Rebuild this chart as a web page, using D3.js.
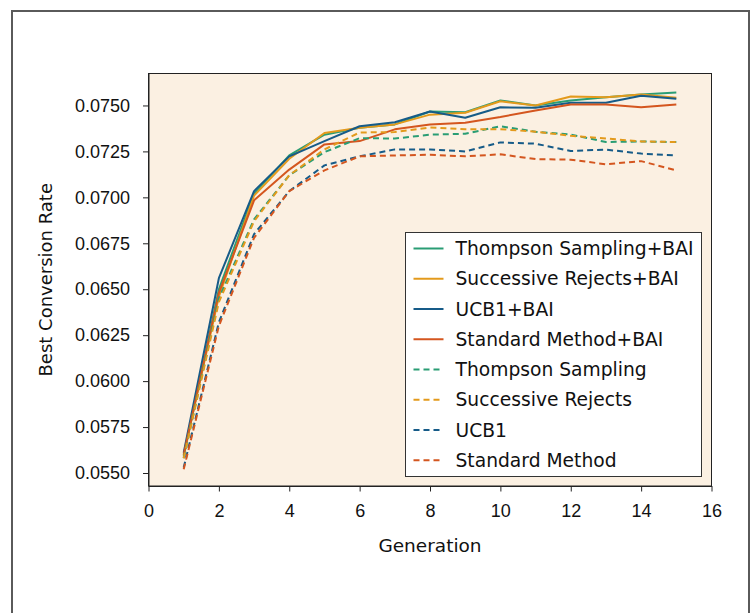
<!DOCTYPE html>
<html>
<head>
<meta charset="utf-8">
<script src="https://cdn.jsdelivr.net/npm/d3@7"></script>
<style>
  body { margin: 0; background: #fff; }
  svg { display: block; font-family: "DejaVu Sans", sans-serif; }
  .axis text { font-size: 18px; fill: #111; }
  .axis path, .axis line { stroke: #222; }
</style>
</head>
<body>
<svg id="chart" width="752" height="613"></svg>
<script>
// generations on the x axis
const generations = [1, 2, 3, 4, 5, 6, 7, 8, 9, 10, 11, 12, 13, 14, 15];

// best conversion rate per generation
const thompsonBAI   = [0.0559, 0.0650, 0.0702, 0.07228, 0.07341, 0.07379, 0.07397, 0.07467, 0.07463, 0.07527, 0.07500, 0.07527, 0.07545, 0.07560, 0.07570];
const successiveBAI = [0.0560, 0.0646, 0.0701, 0.07210, 0.07350, 0.07379, 0.07397, 0.07450, 0.07460, 0.07523, 0.07500, 0.07549, 0.07545, 0.07560, 0.07542];
const ucb1BAI       = [0.0561, 0.0656, 0.07034, 0.07223, 0.07306, 0.07387, 0.07409, 0.07467, 0.07433, 0.07490, 0.07488, 0.07515, 0.07515, 0.07553, 0.07537];
const standardBAI   = [0.0560, 0.0648, 0.06984, 0.07151, 0.07288, 0.07306, 0.07370, 0.07397, 0.07406, 0.07437, 0.07473, 0.07505, 0.07505, 0.07490, 0.07505];
const thompson      = [0.0558, 0.0645, 0.0688, 0.07120, 0.07246, 0.07322, 0.07320, 0.07341, 0.07346, 0.07387, 0.07357, 0.07342, 0.07301, 0.07304, 0.07301];
const successive    = [0.0558, 0.0643, 0.0687, 0.07120, 0.07261, 0.07353, 0.07355, 0.07380, 0.07371, 0.07371, 0.07357, 0.07335, 0.07320, 0.07304, 0.07301];
const ucb1          = [0.0553, 0.0632, 0.0680, 0.07034, 0.07174, 0.07223, 0.07261, 0.07260, 0.07250, 0.07299, 0.07292, 0.07252, 0.07260, 0.07238, 0.07228];
const standard      = [0.0552, 0.0630, 0.0678, 0.07034, 0.07147, 0.07223, 0.07228, 0.07232, 0.07223, 0.07234, 0.07208, 0.07205, 0.07180, 0.07197, 0.07147];

const seriesNames = ["Thompson Sampling+BAI", "Successive Rejects+BAI", "UCB1+BAI", "Standard Method+BAI",
                     "Thompson Sampling", "Successive Rejects", "UCB1", "Standard Method"];
const seriesValues = [thompsonBAI, successiveBAI, ucb1BAI, standardBAI, thompson, successive, ucb1, standard];

const xTicks = [0, 2, 4, 6, 8, 10, 12, 14, 16];
const yTicks = [0.0550, 0.0575, 0.0600, 0.0625, 0.0650, 0.0675, 0.0700, 0.0725, 0.0750];

const colors = ["#2a9d74", "#e39a1c", "#165b88", "#d4561f"];

const svg = d3.select("#chart");
const margin = {left: 148.5, right: 40.5, top: 73.5, bottom: 127};
const width = 752 - margin.left - margin.right;
const height = 613 - margin.top - margin.bottom;

// outer frame of the figure
svg.append("rect")
  .attr("x", 12).attr("y", 11)
  .attr("width", 737).attr("height", 640)
  .attr("fill", "none")
  .attr("stroke", "#5a5a5a")
  .attr("stroke-width", 2);

const g = svg.append("g").attr("transform", "translate(" + margin.left + "," + margin.top + ")");

const x = d3.scaleLinear().domain([0, 16]).range([0, width]);
const y = d3.scaleLinear().domain([0.054293, 0.076739]).range([height, 0]);

g.append("rect")
  .attr("width", width).attr("height", height)
  .attr("fill", "#fbf0e2");

const line = d3.line()
  .x((d, i) => x(generations[i]))
  .y(d => y(d));

g.append("g")
  .selectAll("path")
  .data(seriesValues)
  .enter().append("path")
  .attr("d", line)
  .attr("fill", "none")
  .attr("stroke", (d, i) => colors[i % 4])
  .attr("stroke-width", 2)
  .attr("stroke-linejoin", "round")
  .attr("stroke-dasharray", (d, i) => i < 4 ? null : "6,4");

g.append("g")
  .attr("class", "axis")
  .attr("transform", "translate(0," + height + ")")
  .call(d3.axisBottom(x).tickValues(xTicks).tickSizeInner(5.5).tickSizeOuter(0).tickPadding(13).tickFormat(d3.format("d")));

g.append("g")
  .attr("class", "axis")
  .call(d3.axisLeft(y).tickValues(yTicks).tickSizeInner(5.5).tickSizeOuter(0).tickPadding(13).tickFormat(d3.format(".4f")));

// plot border
g.append("rect")
  .attr("width", width).attr("height", height)
  .attr("fill", "none")
  .attr("stroke", "#222")
  .attr("stroke-width", 1);

svg.append("text")
  .attr("x", margin.left + width / 2)
  .attr("y", 552)
  .attr("text-anchor", "middle")
  .style("font-size", "18.5px")
  .attr("fill", "#111")
  .text("Generation");

svg.append("text")
  .attr("transform", "translate(52," + (margin.top + height / 2) + ") rotate(-90)")
  .attr("text-anchor", "middle")
  .style("font-size", "18px")
  .attr("fill", "#111")
  .text("Best Conversion Rate");

// legend
const legend = svg.append("g").attr("transform", "translate(405.5,232.5)");
legend.append("rect")
  .attr("width", 296).attr("height", 244)
  .attr("fill", "#fff")
  .attr("stroke", "#333")
  .attr("stroke-width", 1);

const item = legend.selectAll("g.item")
  .data(seriesNames)
  .enter().append("g")
  .attr("class", "item")
  .attr("transform", (d, i) => "translate(0," + (16 + i * 30.25) + ")");

item.append("line")
  .attr("x1", 8).attr("x2", 38)
  .attr("stroke", (d, i) => colors[i % 4])
  .attr("stroke-width", 2)
  .attr("stroke-dasharray", (d, i) => i < 4 ? null : "6,4");

item.append("text")
  .attr("x", 50)
  .attr("dy", "0.36em")
  .style("font-size", "18.7px")
  .attr("fill", "#111")
  .text(d => d);
</script>
</body>
</html>
